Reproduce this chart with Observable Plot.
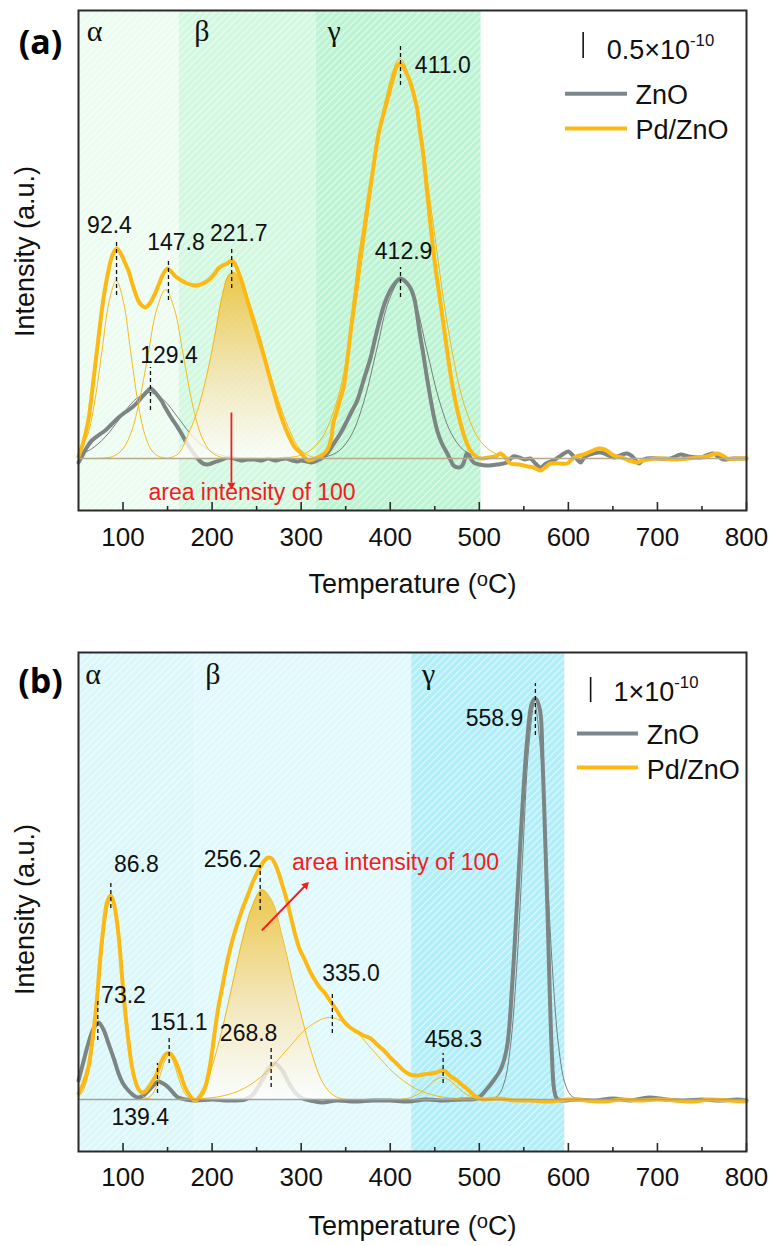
<!DOCTYPE html>
<html>
<head>
<meta charset="utf-8">
<script src="https://cdn.jsdelivr.net/npm/d3@7"></script>
<script src="https://cdn.jsdelivr.net/npm/@observablehq/plot@0.6"></script>
<style>
html, body { margin: 0; padding: 0; background: #fff; }
#wrap { width: 776px; }
#wrap svg { display: block; }
</style>
</head>
<body>
<div id="wrap"></div>
<script>
// ---------------- DATA (temperature °C, intensity a.u.) ----------------
const T_MAJOR = [100, 200, 300, 400, 500, 600, 700, 800];
const T_MINOR = [150, 250, 350, 450, 550, 650, 750];

// Panel (a)
const aRegions = [
  {phase: "α", start: 50, end: 163, labelAt: 68},
  {phase: "β", start: 163, end: 317, labelAt: 188.6},
  {phase: "γ", start: 317, end: 502, labelAt: 336.9}
];
const aZnO = [[50,-4],[55,4],[60,12],[65,18],[72,23],[80,28],[87,34],[95,41],[102,46],[110,51],[116,56],[120.7,61],[126,66],[131,70],[134,68],[138,64],[143,58],[148,50],[154,41],[160,33],[165.6,25],[171,16],[177,8],[182,2],[188,-4],[194,-6],[199,-5],[205,-3],[211,-1],[218,1],[225,0],[232,-2],[240,-1],[248,-1],[256,-2],[263,0],[270,-2],[276,-1],[283,0],[290,-2],[296,-3],[300,-2],[306,-3],[311.6,-4],[318,-2],[324,1],[329,5],[336,14],[344,25],[350,35],[356.7,47],[363,58],[370,78],[378,101],[383,120],[389,141],[394,156],[400,168],[406,176],[411.5,180],[417,177],[423,170],[427,160],[430,145],[433,126],[437,105],[441,82],[445,61],[449,42],[452.7,28],[458,15],[464,5],[468,-2],[471,-7],[476,-9],[480,-8],[483,-3],[486,5],[489,2],[493.6,-4],[500,-6],[509,-7],[520,-6],[531,-4],[538,2],[545,1],[551,-1],[557.5,0],[563,-5],[568.7,-9],[575,-5],[583,-2],[590,2],[595,5],[600,7],[605,3],[610,-1],[613.6,-4],[617,0],[621,3],[628,5],[636,6],[643,4],[651,1],[658,3],[666,5],[672,2],[679,-5],[683,-2],[688,0],[700,0],[714.6,0],[720,2],[726,4],[735,2],[748,1],[755,3],[763,5],[768,2],[774,-1],[785,0],[800,0]];
const aPd = [[50,2],[55,15],[61,38],[67,80],[72.5,121],[78,160],[83.7,188],[88,203],[93,210],[98,204],[102,196],[106,188],[111,173],[117,158],[121,153],[125,151],[130,155],[136,165],[141,176],[146,186],[150,190],[154,187],[159,182],[165.6,178],[172,175],[181,173],[187,174],[192,176],[198,180],[203,185],[207,190],[212,193],[217,195],[222,198],[226,194],[230,185],[233,178],[238,163],[244,145],[249,130],[254,115],[259.6,98],[265,80],[271,61],[276,46],[282,31],[288,19],[293,11],[299,6],[303,2],[308,-2],[313,-1],[318,1],[323,3],[329,8],[334,21],[336,35],[340,47],[344,60],[347.6,71],[352,100],[356,130],[359,151],[363,180],[366,202],[370,225],[375,256],[380,285],[383,303],[387,325],[392,343],[396.6,358],[402,376],[408,393],[411.5,395],[415,391],[419,384],[423,375],[427,362],[430,351],[433,330],[437,305],[441,270],[445,235],[450,196],[456,158],[462,120],[467.6,85],[473,58],[479,35],[484,20],[490,8],[495,3],[501,0],[510,1],[518,2],[524,5],[530,0],[535,-5],[545,-6],[555,-8],[561,-9],[568.7,-12],[575,-8],[580,-5],[590,-5],[598.6,-5],[605,0],[612,3],[617,4],[625,7],[634,10],[641,9],[646,6],[651,3],[660,1],[668,-2],[677,-4],[683,-2],[690,-1],[700,0],[707,0],[720,-1],[735,0],[744.6,1],[755,2],[762,4],[767,5],[773,3],[778,0],[790,0],[800,0]];
const aZnOFit129 = [[50,3.6],[63.4,8.9],[79.9,21.4],[96.4,40],[112.9,58.2],[129.4,66],[145.9,58.2],[162.4,40],[178.9,21.4],[195.4,8.9],[211.9,2.9],[228.4,0.7],[250,0]];
const aZnOFit413 = [[300,0],[314.9,0.4],[328.9,2.0],[342.9,7.9],[356.9,24.4],[370.9,58.4],[384.9,109.2],[398.9,158.9],[412.9,180],[426.9,158.9],[440.9,109.2],[454.9,58.4],[468.9,24.4],[482.9,7.9],[496.9,2.0],[510.9,0.4],[525,0]];
const aPdFit92 = [[50,5.3],[60,22.9],[68.4,57.8],[76.4,108],[84.4,157],[92.4,178],[100.4,157],[108.4,108],[116.4,57.8],[124.4,24.1],[132.4,7.8],[140.4,2],[148.4,0.4],[160,0]];
const aPdFit148 = [[65,0],[77.8,0.4],[87.8,1.9],[97.8,7.4],[107.8,22.9],[117.8,54.9],[127.8,102.5],[137.8,149.1],[147.8,169],[157.8,149.1],[167.8,102.5],[177.8,54.9],[187.8,22.9],[197.8,7.4],[207.8,1.9],[217.8,0.4],[235,0]];
const aPdFill222 = [[150,0],[162,4.7],[173.5,24.7],[184.7,51],[196,91],[203.4,124.7],[211,161],[218.4,183],[224,186],[231.5,179.7],[240.8,158],[252,128],[263,91],[274.5,58],[285.7,31],[297,11],[308,3],[319,0.7],[330,0]];
const aPdFit411 = [[270,0],[285,0.9],[303,4.4],[321,17.6],[339,54.1],[357,129.9],[375,242.6],[393,353],[411,400],[429,353],[447,242.6],[465,129.9],[483,54.1],[501,17.6],[519,4.4],[537,0.9],[560,0]];
const aPeaks = [
  {label: "92.4",  x: 92.7,  y1: 163, y2: 218, lx: 84.8,  ly: 233},
  {label: "147.8", x: 151,   y1: 158, y2: 200, lx: 159.5, ly: 216},
  {label: "221.7", x: 222,   y1: 170, y2: 211, lx: 230,   ly: 224.5},
  {label: "129.4", x: 130.8, y1: 48,  y2: 91,  lx: 151.6, ly: 103},
  {label: "411.0", x: 411.5, y1: 373, y2: 415, lx: 459,   ly: 393},
  {label: "412.9", x: 411.5, y1: 161, y2: 191, lx: 415,   ly: 206.5}
];
const aArrow = {x1: 221.7, y1: 46, x2: 221.7, y2: -24, hx: 221.7, hy: -26.5, angle: 180};
const aNote = {text: "area intensity of 100", x: 244.8, y: -34.6};
const aScale = {text: "0.5×10{-10}", barX: 616.6, barY1: 400, barY2: 426, textX: 643, textY: 408.6};
const aLegend = [
  {name: "ZnO", y: 364.7, ty: 363.6},
  {name: "Pd/ZnO", y: 330, ty: 328.6}
];
const aLegendX = {x1: 596.8, x2: 666.4, tx: 675.4};

// Panel (b)
const bRegions = [
  {phase: "α", start: 50, end: 181, labelAt: 66.3},
  {phase: "β", start: 181, end: 424, labelAt: 201},
  {phase: "γ", start: 424, end: 596, labelAt: 443}
];
const bZnO = [[50,19],[55,36],[61,56],[67,71],[72.5,77],[78,70],[83.7,56],[90,40],[95,26],[100,16],[106,9],[112,4],[117,2],[123,4],[128.6,9],[134,14],[139.5,18],[145,16],[151,12],[157,6],[162,2],[170,0],[181,-1],[200,0],[218,-1],[237,0],[245,4],[252,13],[260,25],[270,36],[278,30],[286,17],[294,6],[302,1],[310,-1],[323,-3],[340,-1],[360,-2],[380,-1],[400,-1],[420,-2],[440,0],[460,-1],[480,0],[497.5,1],[508,10],[516,19],[524,30],[531,52],[537,116],[542.5,199],[548,286],[553.7,359],[559,396],[563,401],[568,390],[571,340],[574,260],[576.5,190],[579,110],[581.5,45],[584,10],[587,1],[592,-1],[610,0],[630,-1],[650,1],[670,-1],[690,2],[710,0],[730,-1],[750,0],[770,-1],[790,0],[800,-1]];
const bPd = [[50,6],[55,15],[61,32],[66,62],[70.6,99],[74,137],[78,172],[82,197],[86,204],[89.5,197],[93,179],[96,155],[98.6,126],[102,92],[106,59],[110,33],[113.6,19],[117,11],[121,7],[125,8],[128.6,12],[133,18],[138,26],[142,36],[145.4,42],[149,46],[153,46],[156.5,42],[160,36],[165,24],[169.7,12],[175,4],[181,-1],[186,3],[192,12],[196,26],[199.7,46],[203,68],[207,92],[212,115],[218,142],[224,163],[229.6,179],[235,193],[240.8,206],[246,218],[252,229],[258,238],[263,242],[267,241],[271,235],[274.5,227],[279,214],[284,199],[288,184],[293,166],[298,151],[304.5,139],[310,128],[315.7,119],[321,112],[327,106],[333,98],[340,89],[348,78],[355,72],[362,68],[370,64],[378,61],[384,56],[389,52],[395,47],[400,42],[407,36],[415,29],[422,25],[430,24],[437,25],[445,26],[452,27],[458,29],[462,28],[468,23],[475,19],[480,15],[486,11],[492,6],[497.5,2],[505,0],[520,1],[540,-1],[557,-1],[580,-2],[600,0],[620,-1],[640,-2],[660,0],[680,-1],[700,0],[720,-1],[740,-2],[760,0],[780,-1],[800,-2]];
const bZnOFit269 = [[225,0],[231,0.4],[237.25,1.6],[243.5,5.0],[249.75,12],[256,22.4],[262.25,32.7],[268.5,37],[274.75,32.7],[281,22.4],[287.25,12],[293.5,5.0],[299.75,1.6],[306,0.4],[312,0]];
const bZnOFit559 = [[505,0],[514.75,0.9],[521.5,4.4],[528.25,17.4],[535,53.6],[541.75,128.6],[548.5,240.2],[555.25,349.5],[562,396],[568.75,349.5],[575.5,240.2],[582.25,128.6],[589,53.6],[595.75,17.4],[602.5,4.4],[609.25,0.9],[618,0]];
const bPdFit87 = [[50,2.8],[55.25,8.9],[61.5,27.3],[67.75,65.6],[74,122.5],[80.25,178.3],[86.5,202],[92.75,178.3],[99,122.5],[105.25,65.6],[111.5,27.3],[117.75,8.9],[124,2.2],[130.25,0.4],[140,0]];
const bPdFit151 = [[120,0],[124.5,0.5],[129,1.9],[133.5,6.0],[138,14.3],[142.5,26.7],[147,38.8],[151.5,44],[156,38.8],[160.5,26.7],[165,14.3],[169.5,6.0],[174,1.9],[178.5,0.5],[185,0]];
const bPdFill256 = [[178,0],[188.5,2.3],[199.7,32],[211,69],[222,112],[233,155.7],[244.6,192],[255.8,209.7],[267,199],[278,165.7],[289.5,122],[300.7,82],[312,45.7],[323,19],[334,5.7],[345.6,0.7],[356,0]];
const bPdFit335 = [[164,0.2],[188,0.9],[212,3.6],[236,11.1],[260,26.6],[284,49.7],[308,72.4],[332,82],[356,72.4],[380,49.7],[404,26.6],[428,11.1],[452,3.6],[476,0.9],[500,0.2]];
const bPdFit458 = [[400,0],[410.3,0.2],[418.3,1.0],[426.3,3.0],[434.3,7.1],[442.3,13.3],[450.3,19.4],[458.3,22],[466.3,19.4],[474.3,13.3],[482.3,7.1],[490.3,3.0],[498.3,1.0],[506.3,0.2],[515,0]];
const bPeaks = [
  {label: "86.8",  x: 86.3,  y1: 191, y2: 219, lx: 115,   ly: 234.5},
  {label: "73.2",  x: 71.7,  y1: 59,  y2: 101, lx: 100.5, ly: 103.7},
  {label: "151.1", x: 151.8, y1: 36,  y2: 64,  lx: 162.6, ly: 77},
  {label: "139.4", x: 138.7, y1: 6,   y2: 36,  lx: 119.3, ly: -17.7},
  {label: "256.2", x: 254,   y1: 189, y2: 234, lx: 222.8, ly: 239.5},
  {label: "268.8", x: 266.3, y1: 12,  y2: 52,  lx: 241,   ly: 66},
  {label: "335.0", x: 335,   y1: 66,  y2: 107, lx: 356,   ly: 125.5},
  {label: "458.3", x: 459.4, y1: 16,  y2: 46,  lx: 471,   ly: 59.5},
  {label: "558.9", x: 563,   y1: 364, y2: 416, lx: 517,   ly: 380.5}
];
const bArrow = {x1: 255.8, y1: 169, x2: 304.3, y2: 213.5, hx: 305.1, hy: 214.2, angle: 44};
const bNote = {text: "area intensity of 100", x: 405.9, y: 236.4};
const bScale = {text: "1×10{-10}", barX: 625, barY1: 397, barY2: 422, textX: 650.6, textY: 407.6};
const bLegend = [
  {name: "ZnO", y: 366, ty: 364.6},
  {name: "Pd/ZnO", y: 332, ty: 329.6}
];
const bLegendX = {x1: 610.2, x2: 678.7, tx: 688};

// ---------------- STYLE ----------------
const C = {zno: "#7d8484", znoFit: "#6c7070", pd: "#fdb913", pdFit: "#f6b300", red: "#f41c1c", ink: "#111", frame: "#2a2a2a"};
const LEGEND_COLOR = {"ZnO": "#7b878a", "Pd/ZnO": "#fdb913"};
const HATCH = {ha1: "#ecfcf1", ha2: "#d2f8e0", ha3: "#bcf4d3", hb1: "#dbf7fa", hb2: "#dff9fc", hb3: "#b1eef8"};
const SANS = "'Liberation Sans', Arial, sans-serif";

// defs: hatch patterns and gradients
const defsSvg = d3.select("body").append("svg").attr("width", 0).attr("height", 0)
  .style("position", "absolute").style("left", 0).style("top", 0);
const defs = defsSvg.append("defs");
for (const [id, color] of Object.entries(HATCH)) {
  const p = defs.append("pattern").attr("id", id).attr("patternUnits", "userSpaceOnUse")
    .attr("width", 5).attr("height", 5).attr("patternTransform", "rotate(45)");
  p.append("rect").attr("width", 5).attr("height", 5).attr("fill", color);
  p.append("line").attr("x1", 0.6).attr("y1", 0).attr("x2", 0.6).attr("y2", 5)
    .attr("stroke", "#fff").attr("stroke-width", 1.1).attr("stroke-opacity", 0.6);
}
for (const id of ["gA", "gB"]) {
  const g = defs.append("linearGradient").attr("id", id).attr("x1", 0).attr("y1", 0).attr("x2", 0).attr("y2", 1);
  g.append("stop").attr("offset", "0%").attr("stop-color", "#eebb22");
  g.append("stop").attr("offset", "55%").attr("stop-color", "#f7e2ad");
  g.append("stop").attr("offset", "100%").attr("stop-color", "#ffffff");
}

function panel(cfg) {
  const [y0, y1] = cfg.yDomain;
  const line = (data, stroke, w) => Plot.line(data, {x: d => d[0], y: d => d[1], curve: "catmull-rom",
    stroke, strokeWidth: w, strokeLinejoin: "round", strokeLinecap: "round"});
  const marks = [
    ...cfg.regions.map(r => Plot.rect([r], {x1: "start", x2: "end", y1: y0, y2: y1, fill: cfg.regionFill[r.phase]})),
    Plot.text(cfg.regions, {x: "labelAt", y: cfg.regionLabelY, text: "phase", fontFamily: "'Liberation Serif', 'Times New Roman', serif", fontSize: 30, fill: C.ink}),
    ...cfg.znoFits.map(f => line(f, C.znoFit, 0.9)),
    line(cfg.zno, C.zno, 4),
    Plot.areaY(cfg.fill, {x: d => d[0], y: d => d[1], curve: "catmull-rom", fill: `url(#${cfg.gradId})`, fillOpacity: 0.8}),
    line(cfg.fill, C.pdFit, 0.9),
    ...cfg.pdFits.map(f => line(f, C.pdFit, 0.9)),
    line(cfg.pd, C.pd, 4),
    Plot.ruleY([0], {stroke: cfg.baseColor, strokeWidth: 1.4}),
    Plot.ruleX(cfg.peaks, {x: "x", y1: "y1", y2: "y2", stroke: C.ink, strokeWidth: 1.3, strokeDasharray: "4,3"}),
    Plot.text(cfg.peaks, {x: "lx", y: "ly", text: "label", fontSize: 23, fill: C.ink}),
    Plot.link([cfg.arrow], {x1: "x1", y1: "y1", x2: "x2", y2: "y2", stroke: C.red, strokeWidth: 1.8}),
    Plot.dot([cfg.arrow], {x: "hx", y: "hy", symbol: "triangle2", r: 3.8, fill: C.red, rotate: "angle"}),
    Plot.text([cfg.note], {x: "x", y: "y", text: "text", fontSize: 23, fill: C.red}),
    Plot.ruleX([cfg.scale], {x: "barX", y1: "barY1", y2: "barY2", stroke: C.ink, strokeWidth: 1.6}),
    Plot.text([cfg.scale], {x: "textX", y: "textY", text: "text", textAnchor: "start", fontSize: 27, fill: C.ink}),
    Plot.ruleY(cfg.legend, {y: "y", x1: cfg.legendX.x1, x2: cfg.legendX.x2, stroke: d => LEGEND_COLOR[d.name], strokeWidth: 4}),
    Plot.text(cfg.legend, {x: cfg.legendX.tx, y: "ty", text: "name", textAnchor: "start", fontSize: 27, fill: C.ink}),
    Plot.ruleX(T_MAJOR, {x: d => d, y1: y0, y2: y0 + 8, stroke: C.frame, strokeWidth: 1.6}),
    Plot.ruleX(T_MINOR, {x: d => d, y1: y0, y2: y0 + 4, stroke: C.frame, strokeWidth: 1.6}),
    Plot.axisX(T_MAJOR, {tickSize: 0, tickPadding: cfg.tickPadding, fontSize: 26, tickFormat: d => String(d), label: null}),
    Plot.frame({stroke: C.frame, strokeWidth: 2}),
    Plot.text([cfg.tag], {frameAnchor: "top-left", text: d => d, textAnchor: "middle", lineAnchor: "middle", dx: -38, dy: cfg.tagDy, fontSize: 34, fontWeight: "bold", fontFamily: "'Open Sans', " + SANS, fill: "#000"}),
    Plot.text(["Intensity (a.u.)"], {frameAnchor: "left", text: d => d, textAnchor: "middle", lineAnchor: "middle", rotate: -90, dx: -53, dy: cfg.yTitleDy, fontSize: 27, fill: C.ink}),
    Plot.text(["Temperature ({o}C)"], {frameAnchor: "bottom", text: d => d, textAnchor: "middle", lineAnchor: "middle", dy: cfg.xTitleDy, fontSize: 27, fill: C.ink})
  ];
  return Plot.plot({
    width: 776, height: cfg.height,
    marginLeft: 78, marginRight: 30, marginTop: cfg.marginTop, marginBottom: cfg.marginBottom,
    x: {domain: [50, 800]},
    y: {domain: cfg.yDomain, axis: null},
    style: {fontFamily: SANS, background: "#fff", overflow: "visible", color: "#111"},
    marks
  });
}

function addSuperscripts(svg) {
  d3.select(svg).selectAll("text").each(function () {
    const t = this.textContent;
    if (!/\{[^}]*\}/.test(t)) return;
    const fs = parseFloat(getComputedStyle(this).fontSize) || 27;
    const parts = t.split(/(\{[^}]*\})/).filter(s => s !== "");
    const node = d3.select(this);
    node.text(null);
    let raise = 0;
    for (const p of parts) {
      const ts = node.append("tspan");
      if (p[0] === "{") {
        const s = p.slice(1, -1);
        const small = s === "o" ? 0.75 : 0.62;
        raise = s === "o" ? 0.27 * fs : 0.48 * fs;
        ts.text(s).attr("font-size", (small * fs) + "px").attr("dy", (-raise) + "px");
      } else {
        ts.text(p);
        if (raise) { ts.attr("dy", raise + "px"); raise = 0; }
      }
    }
  });
}

const wrap = document.getElementById("wrap");
const svgA = panel({
  height: 620, marginTop: 10, marginBottom: 110, yDomain: [-52, 448],
  regions: aRegions, regionFill: {"α": "url(#ha1)", "β": "url(#ha2)", "γ": "url(#ha3)"}, regionLabelY: 427,
  zno: aZnO, pd: aPd, znoFits: [aZnOFit129, aZnOFit413], pdFits: [aPdFit92, aPdFit148, aPdFit411],
  fill: aPdFill222, gradId: "gA", baseColor: "#b3aa8c",
  peaks: aPeaks, arrow: aArrow, note: aNote, scale: aScale, legend: aLegend, legendX: aLegendX,
  tickPadding: 17, tag: "(a)", tagDy: 33, yTitleDy: -9, xTitleDy: 74
});
wrap.appendChild(svgA);
const svgB = panel({
  height: 626, marginTop: 32, marginBottom: 95, yDomain: [-52, 447],
  regions: bRegions, regionFill: {"α": "url(#hb1)", "β": "url(#hb2)", "γ": "url(#hb3)"}, regionLabelY: 425,
  zno: bZnO, pd: bPd, znoFits: [bZnOFit269, bZnOFit559], pdFits: [bPdFit87, bPdFit151, bPdFit335, bPdFit458],
  fill: bPdFill256, gradId: "gB", baseColor: "#9ea3a3",
  peaks: bPeaks, arrow: bArrow, note: bNote, scale: bScale, legend: bLegend, legendX: bLegendX,
  tickPadding: 16, tag: "(b)", tagDy: 30, yTitleDy: 7.5, xTitleDy: 75
});
wrap.appendChild(svgB);
addSuperscripts(svgA);
addSuperscripts(svgB);
</script>
</body>
</html>
